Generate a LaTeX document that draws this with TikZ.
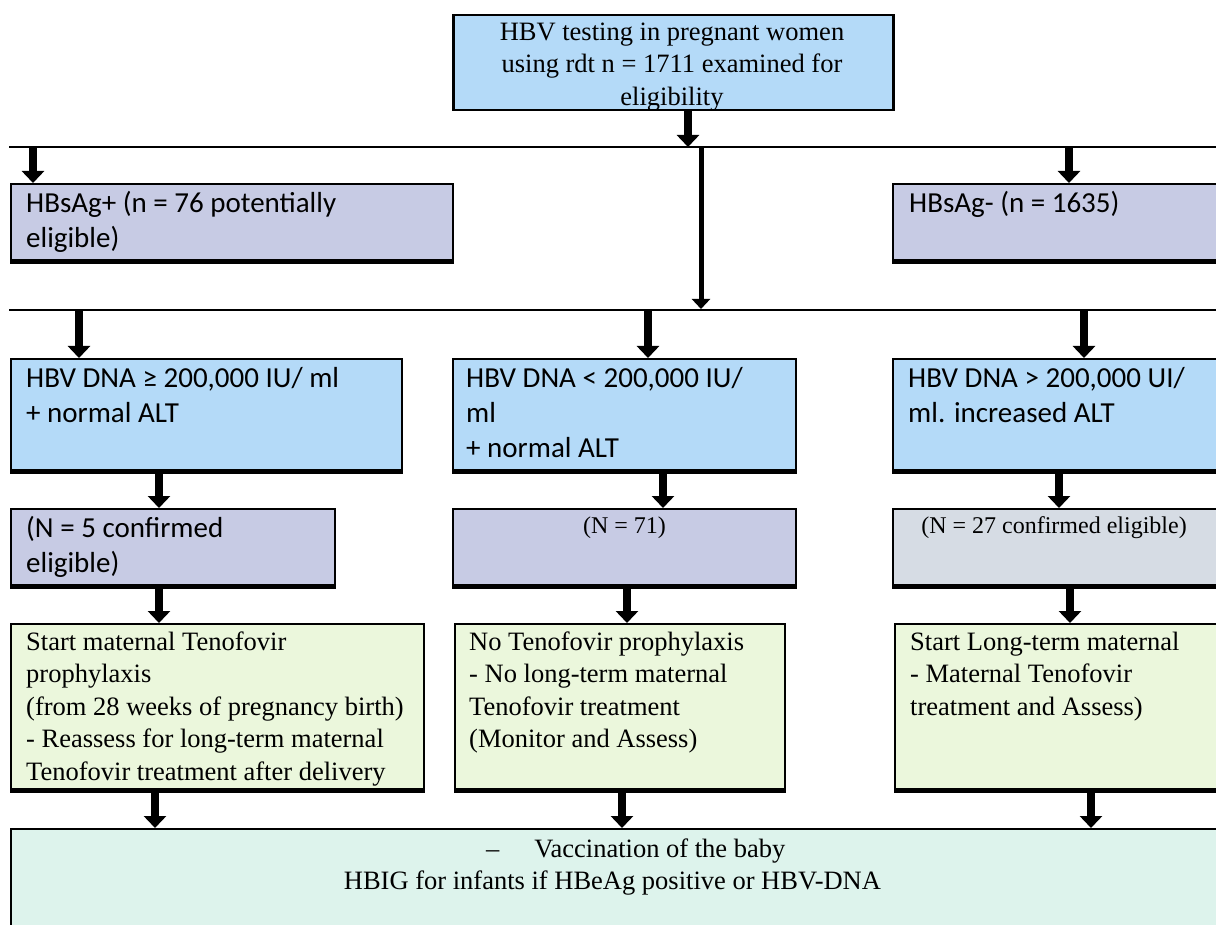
\documentclass[tikz,border=0pt]{standalone}
\usepackage{fontspec}
\setmainfont{Liberation Serif}
\newfontfamily\calibri{Carlito}
\usetikzlibrary{arrows.meta}

\definecolor{hbvblue}{RGB}{180,218,248}
\definecolor{hbvlav}{RGB}{199,203,228}
\definecolor{hbvgrey}{RGB}{214,220,228}
\definecolor{hbvgreen}{RGB}{235,247,220}
\definecolor{hbvteal}{RGB}{221,243,236}

\newcommand\sstrut{\rule{0pt}{24pt}}
\newcommand\cstrut{\rule{0pt}{27pt}}
\newcommand\nstrut{\rule{0pt}{20pt}}

\tikzset{
  box/.style={draw=black, line width=2pt, anchor=north west, inner sep=0pt},
  stxt/.style={font=\fontsize{26.5}{32.5}\selectfont, align=left, anchor=north west, inner sep=0pt},
  ntxt/.style={font=\fontsize{24}{29}\selectfont, align=center, anchor=north, inner sep=0pt},
  ctxt/.style={font=\calibri\fontsize{29}{35}\selectfont, align=left, anchor=north west, inner sep=0pt},
  bus/.style={line width=2pt},
  fat/.style={line width=8pt, -{Triangle[width=22pt,length=12pt]}},
  slim/.style={line width=5pt, -{Triangle[width=18pt,length=10pt]}}
}

\begin{document}
\begin{tikzpicture}[x=1pt,y=-1pt]
\useasboundingbox (0,0) rectangle (1216,925);
\fill[white] (0,0) rectangle (1216,925);
\clip (0,0) rectangle (1216,925);

% boxes
\node[box, line width=2.5pt, fill=hbvblue, minimum width=440pt, minimum height=95pt] (test) at (452,14) {};
\foreach \n/\x/\y/\w/\h/\c in {hbsp/10/183/442/79/hbvlav, hbsn/892/183/340/79/hbvlav,
    dnahi/10/358/391/114/hbvblue, dnalo/452/358/343/114/hbvblue, dnaalt/892/358/340/114/hbvblue,
    nfive/10/508/324/79/hbvlav, nsvt/452/508/343/79/hbvlav, ntws/892/508/340/79/hbvgrey,
    tdfhi/10/623/413/168/hbvgreen, tdflo/454/623/330/168/hbvgreen, tdfalt/894/623/338/168/hbvgreen}
  \node[box, fill=\c, minimum width=\w pt, minimum height=\h pt] (\n) at (\x,\y) {};
\node[box, fill=hbvteal, minimum width=1220pt, minimum height=120pt] (vacc) at (10,828) {};

% thick bottom edges
\foreach \n in {hbsp,hbsn,dnahi,dnalo,dnaalt,nfive,nsvt,ntws,tdfhi,tdflo,tdfalt}
  \fill (\n.south west) rectangle ([yshift=5pt]\n.south east);

% texts
\node[stxt, align=center, anchor=north] (test-t) at (672,16)
  {\sstrut HBV testing in pregnant women\\using rdt n = 1711 examined for\\eligibility};
\node[ctxt] (hbsp-t) at ([shift={(16,2)}]hbsp.north west) {\cstrut HBsAg+ (n = 76 potentially\\eligible)};
\node[ctxt] (hbsn-t) at ([shift={(17,2)}]hbsn.north west) {\cstrut HBsAg- (n = 1635)};
\node[ctxt] (dnahi-t) at ([shift={(16,2)}]dnahi.north west) {\cstrut HBV DNA ≥ 200,000 IU/ ml\\+ normal ALT};
\node[ctxt] (dnalo-t) at ([shift={(14,2)}]dnalo.north west) {\cstrut HBV DNA < 200,000 IU/\\ml\\+ normal ALT};
\node[ctxt] (dnaalt-t) at ([shift={(16,2)}]dnaalt.north west) {\cstrut HBV DNA > 200,000 UI/\\ml. increased ALT};
\node[ctxt] (nfive-t) at ([shift={(16,2)}]nfive.north west) {\cstrut (N = 5 confirmed\\eligible)};
\node[ntxt] (nsvt-t) at ([yshift=-5pt]nsvt.north) {\nstrut (N = 71)};
\node[ntxt] (ntws-t) at (1054,513) {\nstrut (N = 27 confirmed eligible)};
\node[stxt] (tdfhi-t) at ([shift={(16,3)}]tdfhi.north west)
  {\sstrut Start maternal Tenofovir\\prophylaxis\\(from 28 weeks of pregnancy birth)\\- Reassess for long-term maternal\\Tenofovir treatment after delivery};
\node[stxt] (tdflo-t) at ([shift={(15,3)}]tdflo.north west)
  {\sstrut No Tenofovir prophylaxis\\- No long-term maternal\\Tenofovir treatment\\(Monitor and Assess)};
\node[stxt] (tdfalt-t) at ([shift={(16,3)}]tdfalt.north west)
  {\sstrut Start Long-term maternal\\- Maternal Tenofovir\\treatment and Assess)};
\node[stxt] (vacc-t) at (343.7,833)
  {\sstrut\hspace*{142.3pt}–\hspace*{35pt}Vaccination of the baby\\HBIG for infants if HBeAg positive or HBV-DNA};

% split lines
\coordinate (b1l) at (9,147);  \coordinate (b1r) at (1220,147);
\coordinate (b2l) at (9,310);  \coordinate (b2r) at (1220,310);
\draw[bus] (b1l) -- (b1r);
\draw[bus] (b2l) -- (b2r);

% arrows
\draw[fat] (test.south -| 688,0) -- (b1l -| 688,0);
\draw[slim] (b1l -| 701,0) -- ([yshift=1pt]b2l -| 701,0);
\foreach \a/\b/\x in {b1l/hbsp/33, b1l/hbsn/1069, b2l/dnahi/79, b2l/dnalo/648, b2l/dnaalt/1084}
  \draw[fat] (\a -| \x,0) -- (\b.north -| \x,0);
\foreach \a/\b/\x in {dnahi/nfive/159, dnalo/nsvt/663, dnaalt/ntws/1059,
    nfive/tdfhi/159, nsvt/tdflo/627, ntws/tdfalt/1070,
    tdfhi/vacc/155, tdflo/vacc/622, tdfalt/vacc/1091}
  \draw[fat] (\a.south -| \x,0) -- (\b.north -| \x,0);
\end{tikzpicture}
\end{document}
